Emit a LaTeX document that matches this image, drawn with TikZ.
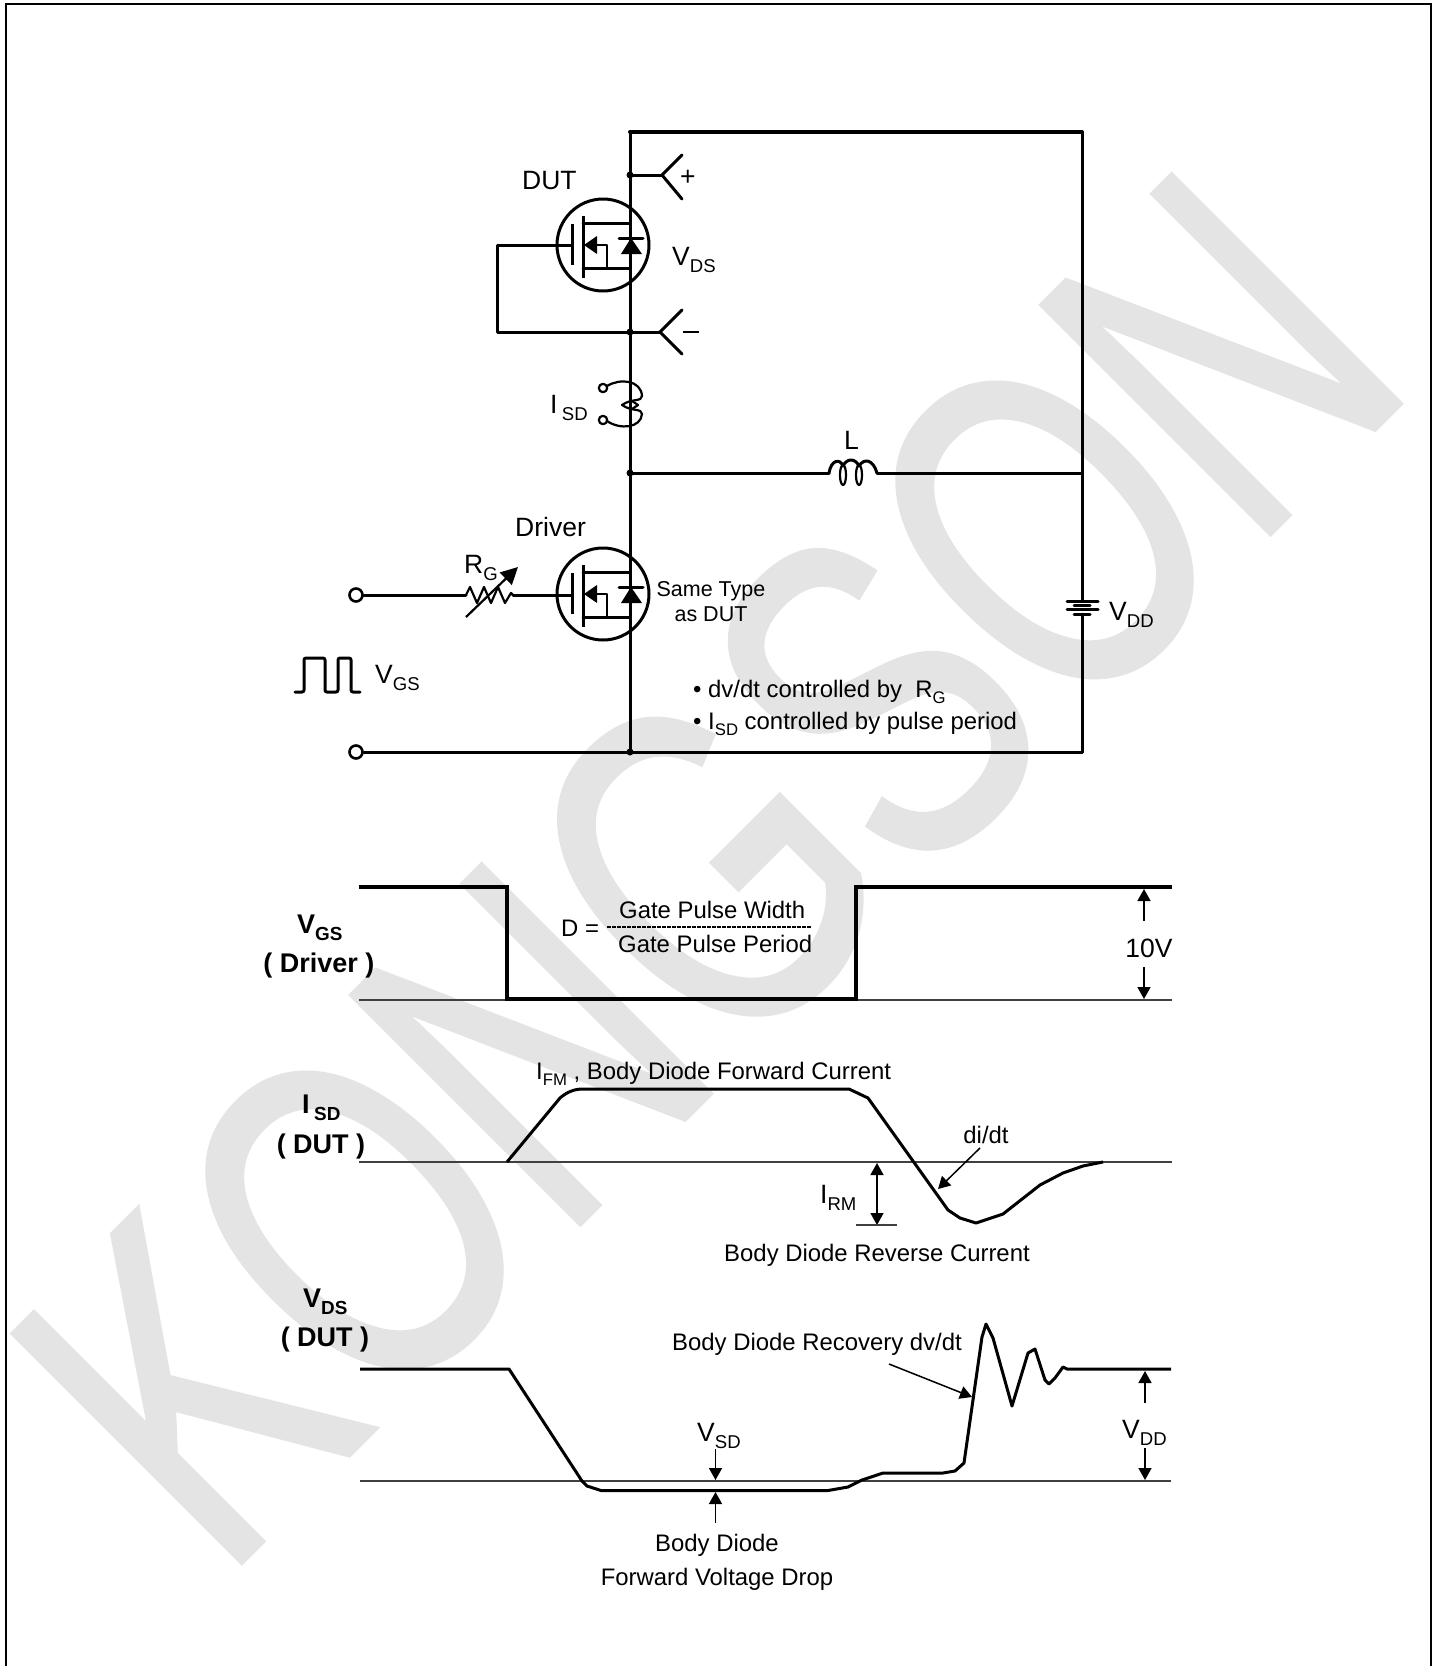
\documentclass[tikz,border=0pt]{standalone}
\usepackage{fontspec}
\usepackage{graphicx}
\setmainfont{Liberation Sans}
\newfontfamily\wmfont[FakeBold=1.1]{Liberation Sans}
\usetikzlibrary{arrows.meta}
\definecolor{wm}{HTML}{E4E4E4}
\newcommand{\lowsub}[1]{\raisebox{-.24em}{\scalebox{.7}{#1}}}
\tikzset{
  lab/.style={inner sep=0pt,anchor=base west,text=black,yshift=-.8pt},
  labc/.style={inner sep=0pt,anchor=base,text=black,yshift=-.8pt},
  s20/.style={font=\fontsize{21.5}{23}\selectfont},
  s22/.style={font=\fontsize{23.9}{26}\selectfont},
  s25/.style={font=\fontsize{26.5}{28}\selectfont},
  b25/.style={font=\fontsize{27}{29}\selectfont\bfseries},
  wire/.style={line width=3pt,line cap=round,line join=round},
  thin wire/.style={line width=2.2pt,line cap=round,line join=round},
  level/.style={line width=4.4pt,line join=miter},
  wave/.style={line width=3pt,line join=round},
  base line/.style={line width=1.6pt,draw=black!75},
  pointer/.style={line width=1.5pt,-{Triangle[length=12pt,width=13pt]}},
  mosfet/.pic={
    \draw[wire] (0,0) circle[radius=46];
    \draw[line width=3pt] (-31,-21) -- (-31,20);
    \draw[line width=3pt] (-20,-29) -- (-20,33);
    \draw[wire] (-20,-22) -- (27,-22);
    \draw[wire] (-20,23) -- (27,23);
    \fill (-19,0) -- (-6,-9) -- (-6,9) -- cycle;
    \draw[thin wire] (-6,0) -- (4,0) -- (4,23);
    \draw[wire] (16,-7) -- (40,-7);
    \fill (28,-7) -- (18,9) -- (39,9) -- cycle;
  }
}
\begin{document}
\begin{tikzpicture}[x=1pt,y=-1pt]
\useasboundingbox (0,0) rectangle (1437,1666);
% watermark
\node[rotate=45,inner sep=0pt,anchor=base west,text=wm] (wmark) at (222,1582)
  {\scalebox{.705}[1]{\fontsize{470}{470}\wmfont\selectfont KONGSON}};
% frame
\coordinate (fbl) at (6,1666); \coordinate (ftl) at (6,4);
\coordinate (ftr) at (1431,4); \coordinate (fbr) at (1431,1666);
\draw[line width=2.4pt] (fbl) -- (ftl) -- (ftr) -- (fbr);

% circuit coordinates
\coordinate (tl) at (630,132); \coordinate (tr) at (1082,132);
\coordinate (bl) at (630,752); \coordinate (br) at (1082,752);
\coordinate (jp) at (630,175); \coordinate (jm) at (630,332);
\coordinate (jl) at (630,473); \coordinate (rl) at (1082,473);
\coordinate (batt) at (1082,601); \coordinate (batb) at (1082,614);
\coordinate (vp) at (662,175); \coordinate (vm) at (660,332);
\coordinate (g1) at (497,245); \coordinate (g1b) at (497,332);
\coordinate (gt) at (572,245);
\coordinate (Lw) at (829,473); \coordinate (Le) at (877,473);
\coordinate (rw) at (466,595); \coordinate (re) at (513,595);
\coordinate (gd) at (571,595);
\node[circle,draw,line width=2.6pt,minimum size=13pt,inner sep=0pt] (tin) at (356,595) {};
\node[circle,draw,line width=2.6pt,minimum size=13pt,inner sep=0pt] (tbot) at (356,752) {};

% rails
\draw[line width=4pt,line cap=round] (tl) -- (tr);
\draw[line width=3pt] (tl) -- (bl);
\draw[wire] (tr) -- (batt);
\draw[wire] (batb) -- (br) -- (bl);
\draw[wire] (tbot) -- (bl);
\draw[wire] (jl) -- (Lw);
\draw[wire] (Le) -- (rl);
\draw[wire] (jp) -- (vp);
\draw[wire] (vp) -- (682,155);
\draw[wire] (vp) -- (682,199);
\draw[wire] (jm) -- (vm);
\draw[wire] (vm) -- (682,310);
\draw[wire] (vm) -- (682,354);
\draw[line width=2pt] (683,332) -- (699,332);
\draw[wire] (gt) -- (g1) -- (g1b) -- (jm);
\draw[wire] (tin) -- (rw);
\draw[wire] (re) -- (gd);
\foreach \p in {jp,jm,jl,bl} \fill (\p) circle[radius=3.5];

% transistors
\pic at (603,245) {mosfet};
\pic at (603,594) {mosfet};

% current probe
\draw[thin wire] (603,388) circle[radius=4.2];
\draw[thin wire] (603,420) circle[radius=4.2];
\draw[thin wire] (607,386) .. controls (620,378) and (641,380) .. (642,396) .. controls (642,402) and (632,398) .. (622,405);
\draw[thin wire] (607,421) .. controls (620,430) and (641,428) .. (642,414) .. controls (642,408) and (632,412) .. (622,405);
\draw[thin wire] (638,405) -- (632,401);
\draw[thin wire] (638,405) -- (632,409);

% inductor
\draw[wire] (Lw) .. controls (831,460) and (840,458) .. (843,466) .. controls (847,458) and (855,458) .. (859,466) .. controls (864,458) and (873,459) .. (Le);
\draw[thin wire] (843,475) ellipse[x radius=3,y radius=10];
\draw[thin wire] (859,475) ellipse[x radius=3,y radius=10];

% battery
\draw[wire] (1067,601) -- (1098,601);
\draw[wire] (1074,605) -- (1090,605);
\draw[wire] (1067,609) -- (1098,609);
\draw[wire] (1074,614) -- (1090,614);

% resistor
\draw[thin wire] (rw) -- (470,587) -- (477,603) -- (484,587) -- (491,603) -- (498,587) -- (505,603) -- (511,593) -- (re);
\coordinate (ra) at (466,617); \coordinate (rb) at (518,567);
\draw[line width=2.2pt,-{Triangle[length=17pt,width=17pt]}] (ra) -- (rb);

% pulse
\draw[wire,rounded corners=2pt] (295,692) -- (304,692) -- (304,658) -- (325,658) -- (325,692) -- (338,692) -- (338,658) -- (351,658) -- (351,692) -- (360,692);

% circuit labels
\node[lab,s25] (tDUT) at (522,189) {DUT};
\node[lab,s25] (tPlus) at (680,185) {+};
\node[lab,s25] (tVDS) at (672,265) {V\lowsub{DS}};
\node[lab,s25] (tISD) at (550,413) {I\,\lowsub{SD}};
\node[lab,s25] (tL) at (844,449) {L};
\node[lab,s25] (tDriver) at (515,536) {Driver};
\node[lab,s25] (tRG) at (464,573) {R\lowsub{G}};
\node[lab,s25] (tVGS) at (375,683) {V\lowsub{GS}};
\node[lab,s25] (tVDD) at (1109,620) {V\lowsub{DD}};
\node[labc,s20] (tSame) at (711,596) {Same Type};
\node[labc,s20] (tAs) at (711,621) {as DUT};
\node[lab,s22] (tB1) at (693,697) {• dv/dt controlled by\ \ R\lowsub{G}};
\node[lab,s22] (tB2) at (693,729) {• I\lowsub{SD} controlled by pulse period};

% VGS waveform
\coordinate (a0) at (359,887); \coordinate (a1) at (507,887);
\coordinate (a2) at (507,999); \coordinate (a3) at (856,999);
\coordinate (a4) at (856,887); \coordinate (a5) at (1172,887);
\coordinate (b0) at (359,1000); \coordinate (b1) at (507,1000);
\coordinate (b2) at (856,1000); \coordinate (b3) at (1172,1000);
\draw[base line] (b0) -- (b1);
\draw[base line] (b2) -- (b3);
\draw[level] (a0) -- (a1) -- (a2) -- (a3) -- (a4) -- (a5);
\coordinate (t1) at (1144,921); \coordinate (t1e) at (1144,889);
\coordinate (t2) at (1144,967); \coordinate (t2e) at (1144,999);
\draw[pointer] (t1) -- (t1e);
\draw[pointer] (t2) -- (t2e);
\node[labc,s25] (t10V) at (1149,957) {10V};
\node[lab,b25] (tVGSb) at (297,933) {V\lowsub{GS}};
\node[labc,b25] (tDrv) at (319,972) {( Driver )};
\node[lab,s22] (tD) at (561,936) {D =};
\coordinate (f0) at (607,927); \coordinate (f1) at (812,927);
\draw[line width=1.5pt,dash pattern=on 3.5pt off 1.5pt] (f0) -- (f1);
\node[lab,s22] (tGW) at (619,918) {Gate Pulse Width};
\node[lab,s22] (tGP) at (618,952) {Gate Pulse Period};

% ISD waveform
\coordinate (c0) at (359,1162); \coordinate (c1) at (1172,1162);
\draw[base line] (c0) -- (c1);
\draw[wave] (507,1162) -- (560,1098) .. controls (567,1092) and (574,1089) .. (583,1089) -- (849,1089) -- (868,1098) -- (948,1210) -- (960,1218) -- (976,1223) -- (1003,1214) -- (1040,1185) -- (1063,1173) -- (1083,1166) -- (1103,1162);
\coordinate (d0) at (980,1148); \coordinate (d1) at (938,1189);
\draw[pointer] (d0) -- (d1);
\node[labc,s22] (tdidt) at (986,1143) {di/dt};
\coordinate (m) at (877,1195); \coordinate (m0) at (877,1163); \coordinate (m1) at (877,1225);
\draw[pointer] (m) -- (m0);
\draw[pointer] (m) -- (m1);
\coordinate (irl) at (856,1225); \coordinate (irr) at (897,1225);
\draw[base line] (irl) -- (irr);
\node[lab,s25] (tIRM) at (820,1203) {I\lowsub{RM}};
\node[labc,s22] (tRev) at (877,1261) {Body Diode Reverse Current};
\node[lab,b25] (tISDb) at (302,1113) {I\,\lowsub{SD}};
\node[labc,b25] (tDUTb) at (321,1153) {( DUT )};
\node[lab,s22] (tIFM) at (536,1079) {I\lowsub{FM} , Body Diode Forward Current};

% VDS waveform
\coordinate (e0) at (360,1481); \coordinate (e1) at (1171,1481);
\draw[base line] (e0) -- (e1);
\draw[wave] (360,1369) -- (509,1369) -- (582,1481) -- (587,1486) -- (601,1490.5) -- (828,1490.5) -- (848,1487) -- (862,1480) -- (883,1473) -- (943,1473) -- (955,1471) -- (964,1463) -- (982,1337) -- (986,1324) -- (993,1338) -- (1012,1406) -- (1028,1353) -- (1035,1349) -- (1045,1380) -- (1049,1384) -- (1055,1378) -- (1063,1367) -- (1067,1369) -- (1171,1369);
\coordinate (h0) at (889,1364); \coordinate (h1) at (972,1397);
\draw[pointer] (h0) -- (h1);
\coordinate (v0) at (1145,1403); \coordinate (v0e) at (1145,1371);
\coordinate (v1) at (1145,1448); \coordinate (v1e) at (1145,1480);
\draw[pointer] (v0) -- (v0e);
\draw[pointer] (v1) -- (v1e);
\node[lab,s25] (tVDDb) at (1122,1438) {V\lowsub{DD}};
\coordinate (s0) at (715.5,1449); \coordinate (s0e) at (715.5,1480);
\coordinate (s1) at (715.5,1523); \coordinate (s1e) at (715.5,1492);
\draw[pointer] (s0) -- (s0e);
\draw[pointer] (s1) -- (s1e);
\node[lab,s25] (tVSD) at (697,1441) {V\lowsub{SD}};
\node[lab,b25] (tVDSb) at (303,1307) {V\lowsub{DS}};
\node[labc,b25] (tDUTc) at (325,1346) {( DUT )};
\node[lab,s22] (tRec) at (672,1350) {Body Diode Recovery dv/dt};
\node[labc,s22] (tBD) at (717,1551) {Body Diode};
\node[labc,s22] (tFV) at (717,1585) {Forward Voltage Drop};
\end{tikzpicture}
\end{document}
